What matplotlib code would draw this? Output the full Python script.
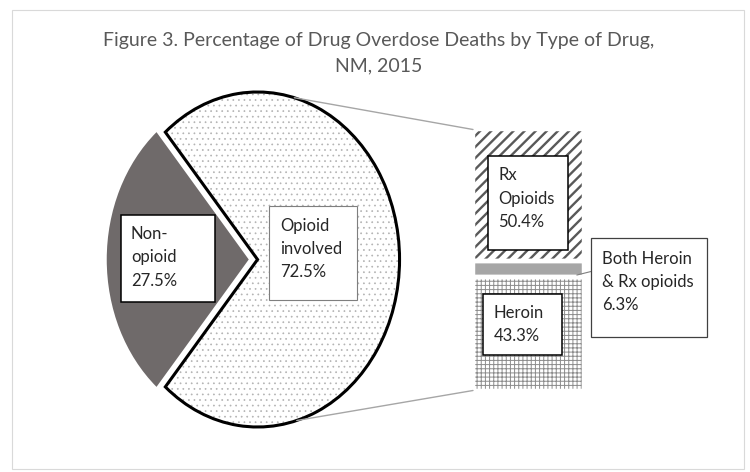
import numpy as np
import matplotlib
matplotlib.use("Agg")
import matplotlib.pyplot as plt
from matplotlib.patches import Wedge, Rectangle, ConnectionPatch

plt.rcParams['font.family'] = ['Lato', 'DejaVu Sans']

# data
pie_labels = ['Non-\nopioid', 'Opioid\ninvolved']
pie_shares = [27.5, 72.5]
bar_labels = ['Heroin', 'Both Heroin\n& Rx opioids', 'Rx\nOpioids']
bar_shares = [43.3, 6.3, 50.4]

W, H = 750, 472
fig = plt.figure(figsize=(W / 100, H / 100), dpi=100)


def fx(x):
    return x / W


def fy(y):
    return 1 - y / H


# outer frame of the chart area
fig.add_artist(Rectangle((fx(12), fy(469)), fx(744) - fx(12), fy(10) - fy(469),
                         transform=fig.transFigure, fill=False,
                         edgecolor='#d9d9d9', lw=0.8))

# title
title_col = '#595959'
fig.text(fx(379), fy(46), 'Figure 3. Percentage of Drug Overdose Deaths by Type of Drug,',
         ha='center', va='baseline', fontsize=14, color=title_col)
fig.text(fx(379), fy(71.5), 'NM, 2015', ha='center', va='baseline',
         fontsize=14, color=title_col)

# ---- pie (drawn in an axes with unequal aspect, so it comes out oval)
rx, ry = 142, 167.5
cx, cy = 253, 259.5
lim = 1.25
ax = fig.add_axes([fx(cx - lim * rx), fy(cy + lim * ry), 2 * lim * rx / W, 2 * lim * ry / H])
start = 180 - pie_shares[0] / 100 * 360 / 2
explode = [0.03, 0.032]
wedges, _ = ax.pie(pie_shares, startangle=start, explode=explode,
                   colors=['#6f6a6a', 'white'], wedgeprops=dict(lw=0))
ax.set_aspect('auto')
ax.set_xlim(-lim, lim)
ax.set_ylim(-lim, lim)
ax.axis('off')

opi = wedges[1]
opi.set_hatch('...')
opi.set_edgecolor('#b3b3b3')
try:
    opi.set_hatch_linewidth(0.5)
except AttributeError:
    pass
ax.add_patch(Wedge(opi.center, opi.r, opi.theta1, opi.theta2, fill=False,
                   edgecolor='black', lw=2.2))

# ---- bar of the opioid slice
bx0, bx1, by0, by1 = 473, 584, 129.5, 390.5
ax2 = fig.add_axes([fx(bx0), fy(by1), (bx1 - bx0) / W, (by1 - by0) / H])
bottoms = np.concatenate([[0], np.cumsum(bar_shares)[:-1]])
hatches = ['++++', None, '///']
hcols = ['#8c8c8c', '#a6a6a6', '#595959']
fcols = ['white', '#a6a6a6', 'white']
hlw = [0.7, 0.5, 1.7]
bars = ax2.bar([0.5] * 3, bar_shares, bottom=bottoms, width=1.0, color=fcols,
               edgecolor=hcols, lw=0)
for b, h, lw in zip(bars, hatches, hlw):
    if h:
        b.set_hatch(h)
        try:
            b.set_hatch_linewidth(lw)
        except AttributeError:
            pass
ax2.bar([0.5] * 3, bar_shares, bottom=bottoms, width=1.0, fill=False,
        edgecolor='white', lw=3.2)
ax2.set_xlim(0, 1)
ax2.set_ylim(0, 100)
ax2.axis('off')

# connector lines from the slice to the bar
oc = np.array(opi.center)
for ang, yb in [(75, 100), (-74, 0)]:
    p = oc + np.array([np.cos(np.radians(ang)), np.sin(np.radians(ang))])
    fig.add_artist(ConnectionPatch(xyA=tuple(p), coordsA=ax.transData,
                                   xyB=(0, yb), coordsB=ax2.transData,
                                   color='#a6a6a6', lw=1.0))

# leader from "Both" label to its segment
fig.add_artist(plt.Line2D([fx(591), fx(577)], [fy(271.5), fy(275)],
                          color='#7f7f7f', lw=0.8))


# ---- label boxes
def label_box(x0, y0, x1, y1, tx, lines, first_base, ec='black', lw=1.0, step=23.4):
    fig.add_artist(Rectangle((fx(x0), fy(y1)), fx(x1) - fx(x0), fy(y0) - fy(y1),
                             transform=fig.transFigure, facecolor='white',
                             edgecolor=ec, lw=lw, zorder=5))
    for i, s in enumerate(lines):
        fig.text(fx(tx), fy(first_base + i * step), s, ha='left', va='baseline',
                 fontsize=12, color='#262626', zorder=6)


label_box(121, 215, 215, 302, 131,
          pie_labels[0].split('\n') + [f'{pie_shares[0]}%'], 239, lw=1.1)
label_box(269, 206, 357, 300, 280,
          pie_labels[1].split('\n') + [f'{pie_shares[1]}%'], 230.5, ec='#7f7f7f', lw=0.8)
label_box(488, 156, 568, 250, 498,
          bar_labels[2].split('\n') + [f'{bar_shares[2]}%'], 180.5, lw=1.1)
label_box(483, 294, 562, 355, 494,
          bar_labels[0].split('\n') + [f'{bar_shares[0]}%'], 317.5, lw=1.1)
label_box(591, 238, 707, 337, 602,
          bar_labels[1].split('\n') + [f'{bar_shares[1]}%'], 263.5, ec='#404040', lw=0.9)

fig.savefig('out.png', dpi=100)
